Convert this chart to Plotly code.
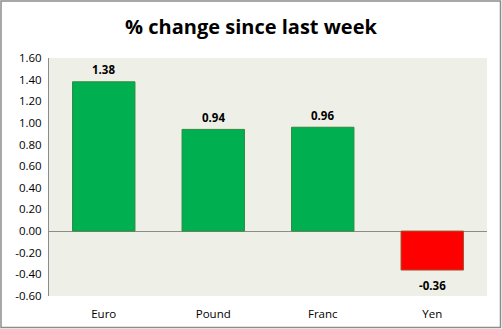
import plotly.graph_objects as go

categories = ["Euro", "Pound", "Franc", "Yen"]
values = [1.38, 0.94, 0.96, -0.36]
labels = ["1.38", "0.94", "0.96", "-0.36"]
tick_vals = [-0.6, -0.4, -0.2, 0.0, 0.2, 0.4, 0.6, 0.8, 1.0, 1.2, 1.4, 1.6]
tick_text = ["-0.60", "-0.40", "-0.20", "0.00", "0.20", "0.40", "0.60", "0.80", "1.00", "1.20", "1.40", "1.60"]

fill = ["#00B050" if v >= 0 else "#FF0000" for v in values]
edge = ["#2E8B3E" if v >= 0 else "#A0522D" for v in values]

W, H = 502, 329
ml, mr, mt, mb = 49, 15, 58, 33
pw, ph = W - ml - mr, H - mt - mb

fig = go.Figure(go.Bar(
    x=categories, y=values,
    marker=dict(color=fill, line=dict(color=edge, width=1)),
    width=0.57,
))

annotations = [
    dict(x=c, y=v, text="<b>%s</b>" % t, showarrow=False, xref="x", yref="y",
         yanchor="middle", yshift=12 if v >= 0 else -15,
         font=dict(family="Open Sans", size=11.5, color="#000000"))
    for c, v, t in zip(categories, values, labels)
]

fig.update_layout(
    width=W, height=H,
    margin=dict(l=ml, r=mr, t=mt, b=mb),
    paper_bgcolor="white", plot_bgcolor="#EEF0E8",
    title=dict(text="<b>% change since last week</b>", x=0.5, xanchor="center",
               y=1 - 27 / H, yanchor="middle",
               font=dict(family="Open Sans", size=20, color="#000000")),
    showlegend=False,
    font=dict(family="Open Sans", size=11, color="#000000"),
    xaxis=dict(showgrid=False, showline=False, zeroline=False, ticks="",
               tickfont=dict(size=11.5), ticklabelstandoff=9, automargin=False),
    yaxis=dict(range=[-0.6, 1.6], tickvals=tick_vals, ticktext=tick_text,
               showgrid=False, zeroline=True, zerolinecolor="#8C8C8C", zerolinewidth=1,
               showline=True, linecolor="#8C8C8C", linewidth=1, ticks="",
               tickfont=dict(size=11.5), ticklabelstandoff=4, automargin=False),
    annotations=annotations,
    shapes=[dict(type="rect", xref="paper", yref="paper",
                 x0=(1 - ml) / pw, x1=(W - 1.5 - ml) / pw,
                 y0=(H - mb - (H - 1.5)) / ph, y1=(H - mb - 1) / ph,
                 line=dict(color="#8C8C8C", width=1.5), fillcolor="rgba(0,0,0,0)", layer="above")],
)

fig.write_html("out.html")
